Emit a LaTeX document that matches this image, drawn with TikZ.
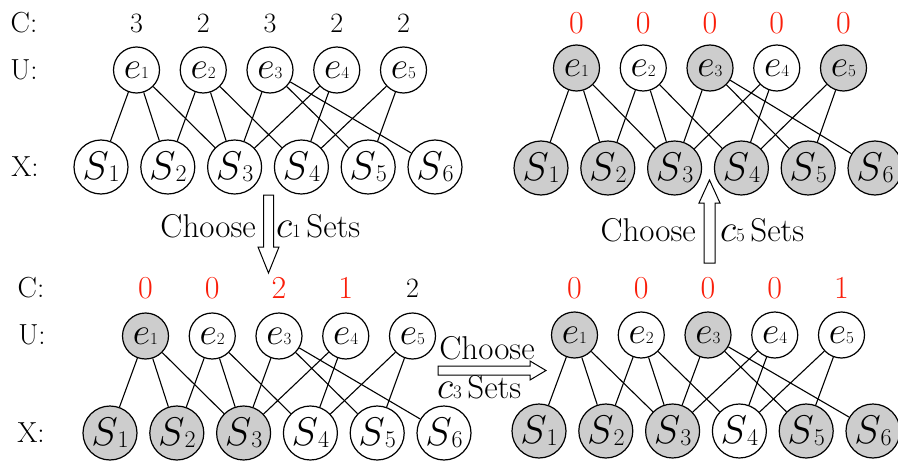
\RequirePackage{fix-cm}
\documentclass[tikz,border=0pt]{standalone}
\usepackage{xcolor}
\definecolor{cred}{RGB}{250,30,10}
\definecolor{ngray}{RGB}{205,205,205}
\newcommand\rdnum[1]{{\color{cred}\fontsize{32}{32}\selectfont #1}}
\newcommand\bknum[1]{{\fontsize{28}{28}\selectfont #1}}
\newcommand\etext[1]{{\fontsize{38}{38}\selectfont$e$\fontsize{17}{17}\selectfont #1}}
\newcommand\stext[1]{{\fontsize{40}{40}\selectfont$S$\fontsize{24}{24}\selectfont\raisebox{-2pt}{#1}}}
\newcommand\cvar[1]{{\fontsize{38}{38}\selectfont$c$\fontsize{19}{19}\selectfont #1}}
\tikzset{
  enode/.style={circle, draw, line width=1.2pt, minimum size=46pt, inner sep=0pt},
  snode/.style={circle, draw, line width=1.2pt, minimum size=54pt, inner sep=0pt},
  edge/.style={line width=1.1pt},
  cnum/.style={inner sep=0pt, anchor=center},
  rowlab/.style={inner sep=0pt, font=\fontsize{29}{29}\selectfont},
  txt/.style={inner sep=0pt, font=\fontsize{33}{33}\selectfont},
  hollow/.style={draw, line width=1pt, fill=white, line join=miter}
}
% #1 prefix, #2 x0, #3 y S row, #4 y e row, #5 y C row, #6 e fills, #7 S fills, #8 C values
\newcommand\mkpanel[8]{%
  \foreach \f [count=\i] in {#6}
    \node[enode, fill=\f] (#1e\i) at ({#2+35.5+66.75*(\i-1)}, #4) {\etext{\i}};
  \foreach \f [count=\i] in {#7}
    \node[snode, fill=\f] (#1s\i) at ({#2+66.8*(\i-1)}, #3) {\stext{\i}};
  \foreach \a/\b in {1/1,1/2,1/3,2/2,2/3,2/4,3/3,3/5,3/6,4/3,4/4,5/4,5/5}
    \draw[edge] (#1e\a) -- (#1s\b);
  \foreach \v [count=\i] in {#8}
    \node[cnum] (#1c\i) at ({#2+35.5+66.75*(\i-1)}, #5) {\v};
}
\begin{document}
\begin{tikzpicture}[x=1pt,y=-1pt]
\useasboundingbox (0,0) rectangle (898,463);
% row labels
\node[rowlab] (lc1) at (24,23) {C:};
\node[rowlab] (lu1) at (24,70) {U:};
\node[rowlab] (lx1) at (25,167) {X:};
\node[rowlab] (lc2) at (31,288) {C:};
\node[rowlab] (lu2) at (32,335) {U:};
\node[rowlab] (lx2) at (31,433) {X:};
% panels
\mkpanel{a}{101}{167}{70}{23}{white,white,white,white,white}{white,white,white,white,white,white}{\bknum{3},\bknum{2},\bknum{3},\bknum{2},\bknum{2}}
\mkpanel{b}{541}{168}{68}{23}{ngray,white,ngray,white,ngray}{ngray,ngray,ngray,ngray,ngray,ngray}{\rdnum{0},\rdnum{0},\rdnum{0},\rdnum{0},\rdnum{0}}
\mkpanel{c}{110}{433}{336}{288}{ngray,white,white,white,white}{ngray,ngray,ngray,white,white,white}{\rdnum{0},\rdnum{0},\rdnum{2},\rdnum{1},\bknum{2}}
\mkpanel{d}{539}{431}{335}{288}{ngray,white,ngray,white,white}{ngray,ngray,ngray,white,ngray,ngray}{\rdnum{0},\rdnum{0},\rdnum{0},\rdnum{0},\rdnum{1}}
% hollow block arrows
\draw[hollow] (263.5,195) -- (273.5,195) -- (273.5,247) -- (279,247) -- (268.5,273)
  -- (258,247) -- (263.5,247) -- cycle;
\draw[hollow] (704,263) -- (715,263) -- (715,203) -- (720,203) -- (709.5,180)
  -- (699,203) -- (704,203) -- cycle;
\draw[hollow] (438,366) -- (530,366) -- (530,361) -- (546,370.5) -- (530,380)
  -- (530,375) -- (438,375) -- cycle;
% arrow labels
\node[txt, anchor=base east] (t1a) at (256,237) {Choose};
\node[txt, anchor=base west] (t1b) at (276,237) {\cvar{1}\,Sets};
\node[txt, anchor=base east] (t2a) at (696,241) {Choose};
\node[txt, anchor=base west] (t2b) at (720,241) {\cvar{5}\,Sets};
\node[txt, anchor=base] (t3a) at (487,359) {Choose};
\node[txt, anchor=base west] (t3b) at (437,398) {\cvar{3}\,Sets};
\end{tikzpicture}
\end{document}
